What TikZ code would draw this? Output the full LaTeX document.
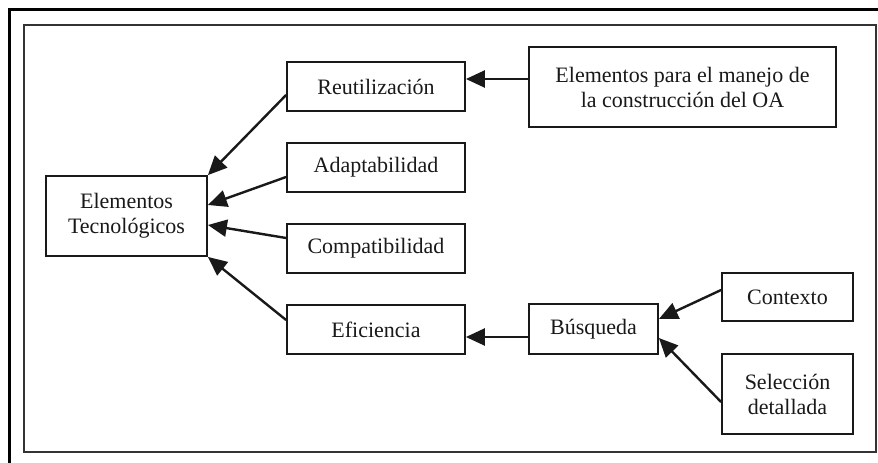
\documentclass[tikz,border=0pt]{standalone}
\usepackage{fontspec}
\setmainfont{Liberation Serif}
\usetikzlibrary{arrows.meta}
\begin{document}
\begin{tikzpicture}[x=1pt,y=-1pt,
  box/.style={draw=black!90, line width=1.8pt, fill=white, inner sep=0pt,
    align=center, font=\fontsize{22}{25}\selectfont, text=black!90},
  link/.style={line width=2.4pt, black!90,
    -{Triangle[length=19pt,width=17pt]}}]
\useasboundingbox (0,0) rectangle (878,463);
% frames
\draw[line width=3pt, black] (9,463) -- (9,9) -- (878,9);
\draw[line width=1.5pt, black!80] (24,25) rectangle (876,452);
% boxes
\node[box, minimum width=161pt, minimum height=80pt] (et) at (126.5,216) {Elementos\\Tecnológicos};
\node[box, minimum width=178pt, minimum height=49pt] (reu) at (376,86.5) {Reutilización};
\node[box, minimum width=178pt, minimum height=49pt] (ada) at (376,167.5) {Adaptabilidad};
\node[box, minimum width=178pt, minimum height=49pt] (com) at (376,248.5) {Compatibilidad};
\node[box, minimum width=178pt, minimum height=49pt] (efi) at (376,329.5) {Eficiencia};
\node[box, minimum width=307pt, minimum height=80pt] (emp) at (682.5,87) {Elementos para el manejo de\\la construcción del OA};
\node[box, minimum width=129pt, minimum height=50pt] (bus) at (593.5,329) {Búsqueda};
\node[box, minimum width=131pt, minimum height=48pt] (con) at (787.5,297) {Contexto};
\node[box, minimum width=131pt, minimum height=80pt] (sel) at (787.5,394) {Selección\\detallada};
% connectors into the main box
\draw[link] ([yshift=-8.5pt]reu.west) -- (et.north east);
\draw[link] ([yshift=-9.5pt]ada.west) -- ([yshift=11pt]et.east);
\draw[link] ([yshift=10.5pt]com.west) -- ([yshift=-9pt]et.east);
\draw[link] ([yshift=9.5pt]efi.west) -- (et.south east);
% horizontal connectors
\coordinate (e1) at ([yshift=8pt]emp.west);
\draw[link] (e1) -- (e1 -| reu.east);
\coordinate (b1) at ([yshift=-8pt]bus.west);
\draw[link] (b1) -- (b1 -| efi.east);
% connectors into the search box
\draw[link] ([yshift=7pt]con.west) -- ([yshift=10pt]bus.east);
\draw[link] ([yshift=-8pt]sel.west) -- ([yshift=-9pt]bus.east);
\end{tikzpicture}
\end{document}
